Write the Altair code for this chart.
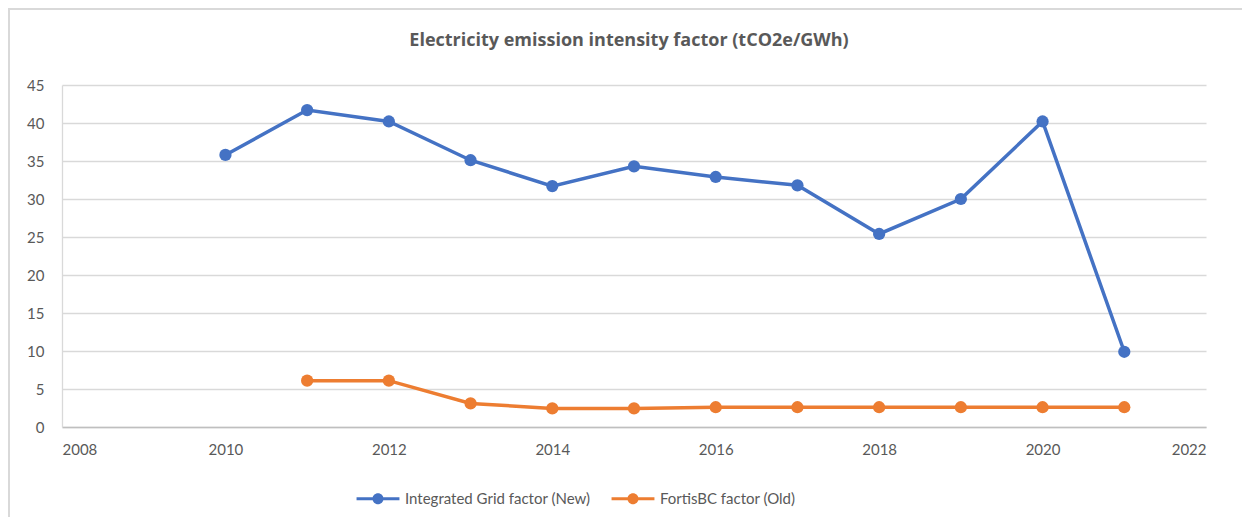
import altair as alt
import pandas as pd

years = [2010, 2011, 2012, 2013, 2014, 2015, 2016, 2017, 2018, 2019, 2020, 2021]
integrated_grid = [35.8, 41.7, 40.2, 35.1, 31.7, 34.3, 32.9, 31.8, 25.4, 30.0, 40.2, 9.9]
fortis_years = [2011, 2012, 2013, 2014, 2015, 2016, 2017, 2018, 2019, 2020, 2021]
fortis_bc = [6.1, 6.1, 3.1, 2.45, 2.45, 2.6, 2.6, 2.6, 2.6, 2.6, 2.6]
series_names = ["Integrated Grid factor (New)", "FortisBC factor (Old)"]
series_colors = ["#4472C4", "#ED7D31"]
x_ticks = [2008, 2010, 2012, 2014, 2016, 2018, 2020, 2022]
y_ticks = [0, 5, 10, 15, 20, 25, 30, 35, 40, 45]
title_text = "Electricity emission intensity factor (tCO2e/GWh)"

rows = [{"year": y, "value": v, "series": series_names[0]} for y, v in zip(years, integrated_grid)]
rows += [{"year": y, "value": v, "series": series_names[1]} for y, v in zip(fortis_years, fortis_bc)]
df = pd.DataFrame(rows)

W, H = 1144, 342
FONT = "Lato"
LABEL_COLOR = "#595959"

legend_path = ("M-3.9,-0.27 L3.9,-0.27 L3.9,0.27 L-3.9,0.27 Z "
               "M-1,0 A1,1 0 1,1 1,0 A1,1 0 1,1 -1,0 Z")

x_enc = alt.X("year:Q", scale=alt.Scale(domain=[2008, 2022], nice=False, zero=False),
              axis=alt.Axis(values=x_ticks, format="d", title=None, grid=False, ticks=False,
                            labelFont=FONT, labelFontSize=15, labelColor=LABEL_COLOR,
                            labelPadding=15, domainColor="#bfbfbf", domainWidth=1.3))
y_enc = alt.Y("value:Q", scale=alt.Scale(domain=[0, 45], nice=False),
              axis=alt.Axis(values=y_ticks, title=None, grid=True, gridColor="#d9d9d9",
                            gridWidth=1.3, ticks=False, labelFont=FONT, labelFontSize=15,
                            labelColor=LABEL_COLOR, labelPadding=18, domainColor="#d9d9d9",
                            domainWidth=1.3))
color_enc = alt.Color("series:N", sort=series_names,
                      scale=alt.Scale(domain=series_names, range=series_colors),
                      legend=alt.Legend(title=None, orient="none", legendX=308.5, legendY=406,
                                        direction="horizontal", symbolType=legend_path,
                                        symbolSize=121, symbolStrokeWidth=0, labelOffset=19.5,
                                        columnPadding=21, labelFont=FONT, labelFontSize=15,
                                        labelColor=LABEL_COLOR, labelLimit=400, padding=0))

border = alt.Chart(alt.Data(values=[{}])).mark_rect(
    fill="transparent", stroke="#d9d9d9", strokeWidth=2
).encode(x=alt.value(-53), x2=alt.value(W + 40), y=alt.value(-76), y2=alt.value(H + 120))

lines = alt.Chart(df).mark_line(strokeWidth=3.5).encode(
    x=x_enc, y=y_enc, color=color_enc, detail="series:N")
points = alt.Chart(df).mark_point(filled=True, size=150, opacity=1).encode(
    x=x_enc, y=y_enc, color=color_enc)

chart = alt.layer(border, lines, points).properties(
    width=W, height=H,
    title=alt.TitleParams(title_text, font="Open Sans", fontSize=18, fontWeight="bold",
                          color=LABEL_COLOR, anchor="middle", frame="group", dx=-5, offset=-42),
    autosize=alt.AutoSizeParams(type="none"),
    padding={"left": 54, "top": 77, "right": 36, "bottom": 90},
).configure_view(stroke=None)

chart.save("out.html", embed_options={"renderer": "svg", "actions": False})
